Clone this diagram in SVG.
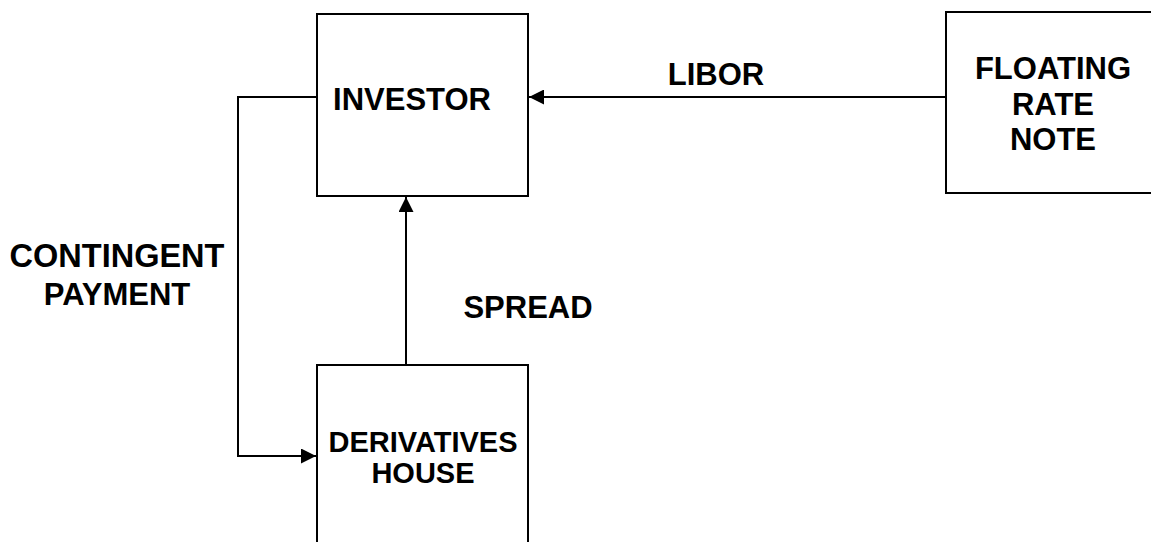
<svg xmlns="http://www.w3.org/2000/svg" width="1151" height="542" viewBox="0 0 1151 542">
<style>
.box{fill:#fff;stroke:#000;stroke-width:2}
.lbl{font-family:"Liberation Sans",Arial,sans-serif;font-weight:bold;font-size:31px;fill:#000;text-anchor:middle}
.con{fill:none;stroke:#000;stroke-width:2}
</style>
<defs>
<marker id="ah" viewBox="0 0 15 15" refX="15" refY="7.5" markerWidth="15" markerHeight="15" markerUnits="userSpaceOnUse" orient="auto">
<path d="M0,0 L15,7.5 L0,15 Z" fill="#000"/>
</marker>
</defs>
<rect width="1151" height="542" fill="#fff"/>
<g id="connectors">
<line class="con" x1="946" y1="97" x2="529" y2="97" marker-end="url(#ah)"/>
<line class="con" x1="406" y1="365" x2="406" y2="197" marker-end="url(#ah)"/>
<polyline class="con" points="317,97 238,97 238,456 316,456" marker-end="url(#ah)"/>
</g>
<g id="investor">
<rect class="box" x="317" y="14" width="211" height="182"/>
<text class="lbl" x="412" y="110">INVESTOR</text>
</g>
<g id="frn">
<rect class="box" x="946" y="12" width="220" height="181"/>
<text class="lbl" x="1053" y="79">FLOATING</text>
<text class="lbl" x="1053" y="115">RATE</text>
<text class="lbl" x="1053" y="150">NOTE</text>
</g>
<g id="derivatives-house">
<rect class="box" x="317" y="365" width="211" height="200"/>
<text class="lbl" x="423" y="452" style="font-size:29px">DERIVATIVES</text>
<text class="lbl" x="423" y="483" style="font-size:29px">HOUSE</text>
</g>
<g id="labels">
<text class="lbl" x="716" y="85">LIBOR</text>
<text class="lbl" x="528" y="318">SPREAD</text>
<text class="lbl" x="117" y="267" style="font-size:32.5px">CONTINGENT</text>
<text class="lbl" x="117" y="305">PAYMENT</text>
</g>
</svg>
